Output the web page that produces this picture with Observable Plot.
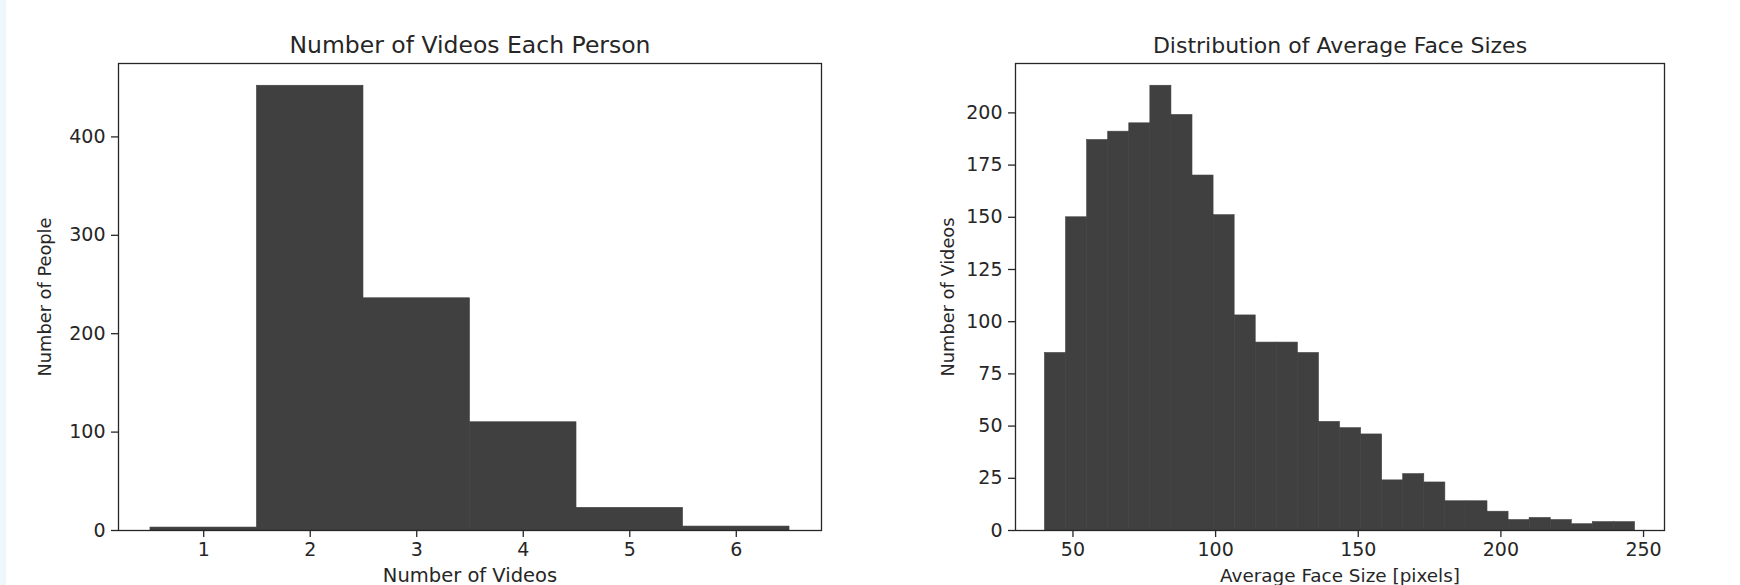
<!DOCTYPE html>
<html>
<head>
<meta charset="utf-8">
<script src="https://cdn.jsdelivr.net/npm/d3@7"></script>
<script src="https://cdn.jsdelivr.net/npm/@observablehq/plot@0.6"></script>
<style>
  html, body { margin: 0; padding: 0; background: #fff; }
  #wrap { position: relative; width: 1740px; height: 585px; overflow: hidden; display: flex; }
  #strip { position: absolute; left: 0; top: 0; width: 6px; height: 585px; background: #eef7fb; }
  svg { display: block; }
</style>
</head>
<body>
<div id="wrap"><div id="strip"></div></div>
<script>
// ---- Left chart data: number of videos per person ----
const videoCounts = [1, 2, 3, 4, 5, 6];
const peopleCounts = [3, 452, 236, 110, 23, 4];
const leftXTicks = [1, 2, 3, 4, 5, 6];
const leftYTicks = [0, 100, 200, 300, 400];

// ---- Right chart data: distribution of average face sizes (28 bins) ----
const faceSizeMin = 40.2;
const faceSizeMax = 247.0;
const faceBinCounts = [85, 150, 187, 191, 195, 213, 199, 170, 151, 103, 90, 90, 85, 52,
                       49, 46, 24, 27, 23, 14, 14, 9, 5, 6, 5, 3, 4, 4];
const rightXTicks = [50, 100, 150, 200, 250];
const rightYTicks = [0, 25, 50, 75, 100, 125, 150, 175, 200];

const titles = ["Number of Videos Each Person", "Distribution of Average Face Sizes"];
const xLabels = ["Number of Videos", "Average Face Size [pixels]"];
const yLabels = ["Number of People", "Number of Videos"];

const FONT = "DejaVu Sans, sans-serif";
const BAR = "#404040";
const INK = "#262626";
const TICK_FS = 19;
const YLABEL_FS = 17.8;

const leftData = videoCounts.map((v, i) => ({x1: v - 0.5, x2: v + 0.5, y: peopleCounts[i]}));
const nb = faceBinCounts.length;
const bw = (faceSizeMax - faceSizeMin) / nb;
const rightData = faceBinCounts.map((c, i) => ({x1: faceSizeMin + i * bw, x2: faceSizeMin + (i + 1) * bw, y: c}));

function pad(domain) {
  const s = domain[1] - domain[0];
  return [domain[0] - 0.05 * s, domain[1] + 0.05 * s];
}

const fmt = d => String(d);

function histo({data, xDomain, yMax, xTicks, yTicks, title, xLabel, yLabel, marginLeft, marginRight, yLabelDx, titleFs, xLabelFs}) {
  return Plot.plot({
    width: 870,
    height: 585,
    marginLeft,
    marginRight,
    marginTop: 63,
    marginBottom: 55,
    style: {fontFamily: FONT, fontSize: TICK_FS + "px", color: INK, background: "transparent", overflow: "visible"},
    x: {domain: xDomain},
    y: {domain: [0, yMax]},
    marks: [
      Plot.rectY(data, {x1: "x1", x2: "x2", y: "y", fill: BAR, stroke: BAR, strokeWidth: 0.6}),
      Plot.frame({stroke: INK, strokeWidth: 1.3}),
      Plot.axisX({ticks: xTicks, tickFormat: fmt, tickSize: 7, tickPadding: 5, label: null, stroke: INK, strokeWidth: 1.3, fontSize: TICK_FS}),
      Plot.axisY({ticks: yTicks, tickFormat: fmt, tickSize: 7, tickPadding: 6, label: null, stroke: INK, strokeWidth: 1.3, fontSize: TICK_FS}),
      Plot.text([title], {frameAnchor: "top", textAnchor: "middle", lineAnchor: "bottom", dy: -11, fontSize: titleFs, fill: INK}),
      Plot.text([xLabel], {frameAnchor: "bottom", textAnchor: "middle", lineAnchor: "bottom", dy: 51, fontSize: xLabelFs, fill: INK}),
      Plot.text([yLabel], {frameAnchor: "left", textAnchor: "middle", lineAnchor: "middle", rotate: -90, dx: yLabelDx, fontSize: YLABEL_FS, fill: INK})
    ]
  });
}

const left = histo({
  data: leftData,
  xDomain: pad([0.5, 6.5]),
  yMax: d3.max(peopleCounts) * 1.05,
  xTicks: leftXTicks, yTicks: leftYTicks,
  title: titles[0], xLabel: xLabels[0], yLabel: yLabels[0],
  marginLeft: 118, marginRight: 49, yLabelDx: -73,
  titleFs: 23.5, xLabelFs: 19.5
});
const right = histo({
  data: rightData,
  xDomain: pad([faceSizeMin, faceSizeMax]),
  yMax: d3.max(faceBinCounts) * 1.05,
  xTicks: rightXTicks, yTicks: rightYTicks,
  title: titles[1], xLabel: xLabels[1], yLabel: yLabels[1],
  marginLeft: 145, marginRight: 76, yLabelDx: -67,
  titleFs: 22, xLabelFs: 18.4
});
const wrap = document.getElementById("wrap");
wrap.appendChild(left);
wrap.appendChild(right);
</script>
</body>
</html>
